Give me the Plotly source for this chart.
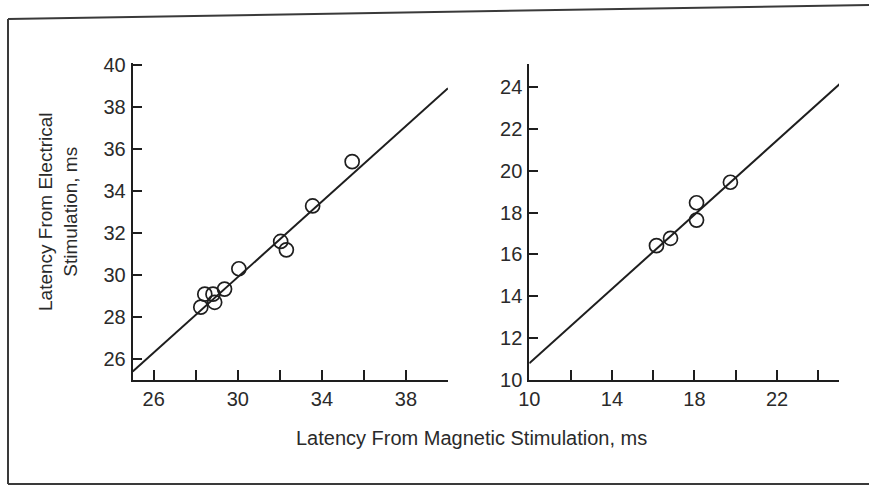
import plotly.graph_objects as go

# ---- data ----
left_x = [35.44, 33.56, 32.04, 32.31, 30.05, 29.37, 28.43, 28.82, 28.90, 28.24]
left_y = [35.40, 33.29, 31.60, 31.20, 30.30, 29.33, 29.09, 29.09, 28.70, 28.47]
left_fit_x = [25.0, 40.0]
left_fit_y = [25.4, 38.9]

right_x = [19.74, 18.10, 18.10, 16.84, 16.16]
right_y = [19.45, 18.47, 17.64, 16.77, 16.42]
right_fit_x = [10.0, 25.1]
right_fit_y = [10.8, 24.2]

left_xticks = [26, 30, 34, 38]
left_yticks = [26, 28, 30, 32, 34, 36, 38, 40]
right_xticks = [10, 14, 18, 22]
right_yticks = [10, 12, 14, 16, 18, 20, 22, 24]

x_title = "Latency From Magnetic Stimulation, ms"
y_title = "Latency From Electrical<br>Stimulation, ms"

W, H = 869, 488
INK = "#1e1e1e"
TXT = "#2a2a2a"
FONT = "Liberation Sans, Arial, Helvetica, sans-serif"

fig = go.Figure()

marker = dict(symbol="circle-open", size=14, color=INK, line=dict(width=1.7, color=INK))

fig.add_trace(go.Scatter(x=left_fit_x, y=left_fit_y, mode="lines",
                         line=dict(color=INK, width=2), xaxis="x", yaxis="y",
                         showlegend=False, hoverinfo="skip"))
fig.add_trace(go.Scatter(x=left_x, y=left_y, mode="markers", marker=marker,
                         xaxis="x", yaxis="y", showlegend=False, cliponaxis=False))
fig.add_trace(go.Scatter(x=right_fit_x, y=right_fit_y, mode="lines",
                         line=dict(color=INK, width=2), xaxis="x2", yaxis="y2",
                         showlegend=False, hoverinfo="skip"))
fig.add_trace(go.Scatter(x=right_x, y=right_y, mode="markers", marker=marker,
                         xaxis="x2", yaxis="y2", showlegend=False, cliponaxis=False))

def px_x(p):
    return p / W

def px_y(p):
    return 1 - p / H

axis_common = dict(showgrid=False, zeroline=False, showline=True, linecolor=INK,
                   linewidth=2, ticks="inside", tickcolor=INK, tickwidth=2,
                   automargin=False,
                   tickfont=dict(family=FONT, size=20, color=TXT), fixedrange=True)

fig.update_layout(
    width=W, height=H,
    margin=dict(l=0, r=0, t=0, b=0),
    paper_bgcolor="white", plot_bgcolor="white",
    font=dict(family=FONT, color=TXT),
    xaxis=dict(axis_common, domain=[px_x(132.7), px_x(448)], range=[25, 40],
               tickvals=left_xticks, ticklen=10, anchor="y",
               minor=dict(ticks="inside", tickvals=[28, 32, 36, 40], ticklen=10,
                          tickcolor=INK, tickwidth=2)),
    yaxis=dict(axis_common, domain=[px_y(380), px_y(63)], range=[25, 40.1],
               tickvals=left_yticks, ticklen=9, anchor="x", ticklabelstandoff=1),
    xaxis2=dict(axis_common, domain=[px_x(529.3), px_x(839)], range=[10, 25],
                tickvals=right_xticks, ticklen=10, anchor="y2",
                minor=dict(ticks="inside", tickvals=[12, 16, 20, 24], ticklen=10,
                           tickcolor=INK, tickwidth=2)),
    yaxis2=dict(axis_common, domain=[px_y(380), px_y(64)], range=[10, 25.1],
                tickvals=right_yticks, ticklen=9, anchor="x2", ticklabelstandoff=1),
)

# axis titles
fig.add_annotation(text=x_title, xref="paper", yref="paper",
                   x=px_x(471), y=px_y(438), showarrow=False,
                   font=dict(family=FONT, size=20, color=TXT),
                   xanchor="center", yanchor="middle")
fig.add_annotation(text=y_title, xref="paper", yref="paper",
                   x=px_x(58), y=px_y(211), showarrow=False, textangle=-90,
                   font=dict(family=FONT, size=19, color=TXT),
                   xanchor="center", yanchor="middle")

# scanned page frame
frame = dict(color="#3a3a3a", width=2)
fig.add_shape(type="line", xref="paper", yref="paper",
              x0=px_x(8), y0=px_y(19), x1=px_x(869), y1=px_y(5), line=frame)
fig.add_shape(type="line", xref="paper", yref="paper",
              x0=px_x(8), y0=px_y(19), x1=px_x(8), y1=px_y(484), line=frame)
fig.add_shape(type="line", xref="paper", yref="paper",
              x0=px_x(8), y0=px_y(484), x1=px_x(869), y1=px_y(484), line=frame)

fig.write_html("out.html")
